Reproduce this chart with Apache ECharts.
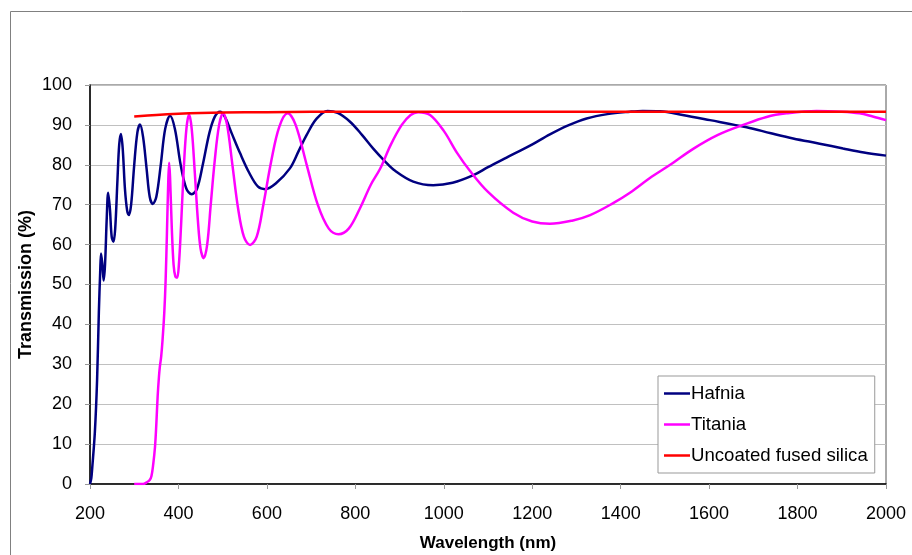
<!DOCTYPE html>
<html>
<head>
<meta charset="utf-8">
<script src="https://cdn.jsdelivr.net/npm/echarts@6/dist/echarts.min.js"></script>
<style>html,body{margin:0;padding:0;background:#fff}#c{width:912px;height:555px}</style>
</head>
<body>
<div id="c"></div>
<script>
const seriesNames = ['Hafnia', 'Titania', 'Uncoated fused silica'];
const yTicks = [0, 10, 20, 30, 40, 50, 60, 70, 80, 90, 100];
const xTicks = [200, 400, 600, 800, 1000, 1200, 1400, 1600, 1800, 2000];

const hafnia = [[200,0],[203,1.5],[205,4],[211,13],[216,26],[220,43],[223,53],[225,57.8],[228,55],[231,51],[234,55],[238,67],[241,73],[245,69],[249,62],[253,60.7],[257,64],[262,76],[266,85],[270,87.7],[274,84],[279,74],[284,68.5],[288,67.4],[293,70],[300,80],[307,88],[313,90.1],[320,87],[328,79],[335,72],[342,70.2],[350,72],[360,80],[370,89],[381,92.3],[392,89],[405,80],[418,74],[430,72.6],[442,74],[455,80],[470,88],[482,92],[494,93.3],[505,92],[520,88],[539,83],[560,78],[580,74.5],[596,73.9],[620,75.3],[652,79.1],[672,83.5],[690,87.5],[712,91.5],[737,93.5],[760,93],[788,90.8],[815,87.5],[841,84],[866,81],[890,78.5],[931,75.8],[976,74.9],[1020,75.5],[1067,77.4],[1100,79.4],[1142,81.8],[1195,84.8],[1240,87.6],[1280,89.8],[1323,91.6],[1370,92.7],[1421,93.3],[1450,93.5],[1489,93.4],[1540,92.5],[1602,91.2],[1685,89.4],[1740,87.9],[1790,86.6],[1850,85.3],[1903,84.1],[1950,83.1],[2000,82.3]];

const titania = [[300,0],[320,0],[328,0.4],[335,1],[339,2],[343,5],[347,9.3],[350,15],[353,22],[356,27],[358,29.4],[361,32],[364,36],[368,43],[371,51],[374,63],[377,76],[379,80.5],[381,77],[385,64],[389,55],[393,52],[397,51.7],[401,55],[406,65],[412,79],[418,89],[424,92.6],[430,89],[437,78],[444,66],[450,59],[457,56.6],[465,60],[473,70],[482,81],[492,90],[501,92.9],[510,90],[522,80],[535,69],[548,62],[562,59.9],[577,62],[592,70],[610,81],[628,89.5],[647,92.9],[665,90],[690,80],[715,70],[740,64],[762,62.6],[785,64],[810,69],[835,75],[856,79],[880,85],[905,90],[925,92.5],[942,93.2],[969,92.5],[1000,88.5],[1030,83],[1059,78.5],[1100,73.2],[1157,68],[1200,65.8],[1240,65.2],[1290,66],[1331,67.4],[1383,70.4],[1421,73],[1470,77],[1512,80],[1564,84],[1620,87.5],[1677,90],[1730,92],[1775,92.9],[1843,93.5],[1900,93.3],[1940,92.9],[1970,92.1],[2000,91.2]];

const silica = [[300,92.1],[350,92.5],[400,92.8],[450,93.0],[500,93.1],[600,93.2],[800,93.3],[1000,93.3],[1500,93.3],[2000,93.3]];

const colors = ['#000080', '#FF00FF', '#FF0000'];
const chart = echarts.init(document.getElementById('c'), null, {renderer: 'canvas'});
const font = 'Liberation Sans, Arial, sans-serif';
chart.setOption({
  animation: false,
  backgroundColor: '#fff',
  graphic: [{
    type: 'rect', shape: {x: 10.5, y: 11.5, width: 920, height: 560},
    style: {fill: 'none', stroke: '#808080', lineWidth: 1}, z: 0
  }],
  grid: {left: 90, top: 85, right: 26, bottom: 71, show: true, borderColor: '#555', borderWidth: 1,
    containLabel: false, outerBoundsMode: 'none'},
  xAxis: {
    type: 'value', min: 200, max: 2000, interval: 200,
    name: 'Wavelength (nm)', nameLocation: 'middle', nameGap: 51, nameMoveOverlap: false,
    nameTextStyle: {fontFamily: font, fontSize: 17, fontWeight: 'bold', color: '#000'},
    axisLine: {show: true, onZero: false, lineStyle: {color: '#000', width: 1.5}},
    axisTick: {show: true, length: 5, lineStyle: {color: '#999'}},
    axisLabel: {margin: 21, fontFamily: font, fontSize: 18, color: '#000',
      formatter: v => xTicks.includes(v) ? String(v) : ''},
    splitLine: {show: false}
  },
  yAxis: {
    type: 'value', min: 0, max: 100, interval: 10,
    name: 'Transmission (%)', nameLocation: 'middle', nameGap: 55, nameRotate: 90, nameMoveOverlap: false,
    nameTextStyle: {fontFamily: font, fontSize: 18, fontWeight: 'bold', color: '#000'},
    axisLine: {show: true, onZero: false, lineStyle: {color: '#000', width: 1.5}},
    axisTick: {show: true, length: 5, lineStyle: {color: '#999'}},
    axisLabel: {margin: 18, fontFamily: font, fontSize: 18, color: '#000',
      formatter: v => yTicks.includes(v) ? String(v) : ''},
    splitLine: {show: true, lineStyle: {color: '#c0c0c0', width: 1}}
  },
  legend: {
    orient: 'vertical', left: 658, top: 376,
    padding: [8, 7, 8, 6], itemGap: 12,
    backgroundColor: '#fff', borderColor: '#999', borderWidth: 1,
    icon: 'rect', itemWidth: 26, itemHeight: 2.5,
    textStyle: {fontFamily: font, fontSize: 18.6, color: '#000', padding: [0, 0, 0, -4]},
    data: seriesNames
  },
  series: [
    {name: seriesNames[0], type: 'line', data: hafnia, showSymbol: false, smooth: 0.35,
      lineStyle: {color: colors[0], width: 2.5}, itemStyle: {color: colors[0]}, z: 3},
    {name: seriesNames[1], type: 'line', data: titania, showSymbol: false, smooth: 0.35,
      lineStyle: {color: colors[1], width: 2.5}, itemStyle: {color: colors[1]}, z: 4},
    {name: seriesNames[2], type: 'line', data: silica, showSymbol: false, smooth: 0.35,
      lineStyle: {color: colors[2], width: 2.5}, itemStyle: {color: colors[2]}, z: 5}
  ]
});
</script>
</body>
</html>
